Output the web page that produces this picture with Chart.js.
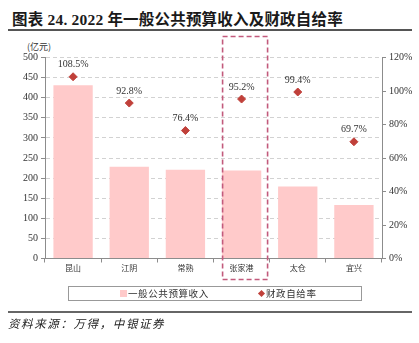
<!DOCTYPE html>
<html lang="zh">
<head>
<meta charset="UTF-8">
<title>2022年一般公共预算收入及财政自给率</title>
<script src="https://cdn.jsdelivr.net/npm/chart.js"></script>
<style>
  body { margin: 0; background: #fff; }
  #wrap { position: relative; width: 419px; height: 343px; overflow: hidden; background: #fff; }
  #chart { position: absolute; left: 0; top: 0; }
  .title { position: absolute; left: 12px; top: 7px; font: bold 15.5px "Liberation Serif", "Noto Sans CJK SC"; color: #1a1a1a; white-space: nowrap; letter-spacing: 0.2px; }
  .rule { position: absolute; left: 8px; width: 404px; background: #555; }
  .unit { position: absolute; left: 27px; top: 40px; font: 9px "Noto Sans CJK SC"; color: #333; }
  .legend { position: absolute; left: 68px; top: 286px; width: 294px; height: 15px; border: 1px solid #999; box-sizing: border-box; font: 9.5px "Noto Sans CJK SC"; color: #333; }
  .legend span { position: absolute; top: 0; line-height: 13px; white-space: nowrap; letter-spacing: 0.6px; }
  .sq { position: absolute; left: 51px; top: 3px; width: 7px; height: 7px; background: #ffcaca; }
  .dia { position: absolute; left: 190px; top: 4px; width: 5px; height: 5px; background: #c0403a; transform: rotate(45deg); }
  .source { position: absolute; left: 8px; top: 315px; font: italic 11.5px "Noto Sans CJK SC"; color: #222; letter-spacing: 1.6px; white-space: nowrap; }
</style>
</head>
<body>
<div id="wrap">
  <div class="title">图表 24. 2022 年一般公共预算收入及财政自给率</div>
  <div class="rule" style="top:29px;height:1.5px;"></div>
  <div class="unit">(亿元)</div>
  <canvas id="chart" width="419" height="343"></canvas>
  <div class="legend">
    <div class="sq"></div><span style="left:59px;">一般公共预算收入</span>
    <div class="dia"></div><span style="left:197px;">财政自给率</span>
  </div>
  <div class="rule" style="top:311px;height:1.5px;background:#666;"></div>
  <div class="source">资料来源：万得，中银证券</div>
</div>

<script>
// 各县级市 2022 年数据
const cities = ['昆山', '江阴', '常熟', '张家港', '太仓', '宜兴'];
const revenue = [431, 228, 221, 219, 179, 133];        // 一般公共预算收入（亿元）
const selfSufficiency = [108.5, 92.8, 76.4, 95.2, 99.4, 69.7]; // 财政自给率（%）
const highlightCity = '张家港';

const pink = '#ffcaca';
const red = '#c0403a';
const axisGray = '#8c8c8c';
const serif = 'Liberation Serif';

// 财政自给率数值标注
const valueLabels = {
  id: 'valueLabels',
  afterDatasetsDraw(chart) {
    const { ctx } = chart;
    const meta = chart.getDatasetMeta(1);
    ctx.save();
    ctx.font = '10px "' + serif + '"';
    ctx.fillStyle = '#333';
    ctx.textAlign = 'center';
    ctx.textBaseline = 'middle';
    meta.data.forEach((pt, i) => {
      ctx.fillText(selfSufficiency[i].toFixed(1) + '%', pt.x, pt.y - 12);
    });
    ctx.restore();
  }
};

// 张家港外围的虚线框
const highlightBox = {
  id: 'highlightBox',
  afterDraw(chart) {
    const { ctx, chartArea, scales } = chart;
    const idx = cities.indexOf(highlightCity);
    const cx = scales.x.getPixelForValue(idx);
    ctx.save();
    ctx.strokeStyle = '#c25a7c';
    ctx.lineWidth = 1.6;
    ctx.setLineDash([5, 3]);
    ctx.strokeRect(cx - 19, chartArea.top - 21, 45, chartArea.bottom - chartArea.top + 42);
    ctx.restore();
  }
};

new Chart(document.getElementById('chart'), {
  data: {
    labels: cities,
    datasets: [
      {
        type: 'bar',
        label: '一般公共预算收入',
        data: revenue,
        backgroundColor: pink,
        borderWidth: 0,
        categoryPercentage: 1,
        barPercentage: 0.7,
        yAxisID: 'y',
        order: 2
      },
      {
        type: 'line',
        label: '财政自给率',
        data: selfSufficiency,
        showLine: false,
        pointStyle: 'rectRot',
        pointRadius: 4,
        backgroundColor: red,
        borderColor: red,
        yAxisID: 'y1',
        order: 1
      }
    ]
  },
  options: {
    responsive: false,
    animation: false,
    devicePixelRatio: 1,
    layout: { padding: { top: 57.5, bottom: 54.5, left: 0, right: 0 } },
    plugins: { legend: { display: false }, tooltip: { enabled: false } },
    scales: {
      x: {
        afterFit(s) { s.height = 30; },
        grid: { drawOnChartArea: false, drawTicks: true, tickLength: 4, tickColor: axisGray, offset: true },
        border: { color: axisGray, width: 1 },
        ticks: { color: '#333', font: { family: 'Noto Sans CJK SC', size: 8 }, padding: 1 }
      },
      y: {
        position: 'left',
        min: 0, max: 500,
        afterFit(s) { s.width = 45; },
        grid: { color: '#d2d2d2', lineWidth: 1, tickLength: 4, tickColor: axisGray },
        border: { color: axisGray, width: 1, dash: [4, 3] },
        ticks: { stepSize: 50, color: '#333', font: { family: serif, size: 10 }, padding: 3 }
      },
      y1: {
        position: 'right',
        min: 0, max: 120,
        afterFit(s) { s.width = 37; },
        grid: { drawOnChartArea: false, tickLength: 4, tickColor: axisGray },
        border: { color: axisGray, width: 1 },
        ticks: { stepSize: 20, color: '#333', font: { family: serif, size: 10 }, padding: 3,
                 callback: v => v + '%' }
      }
    }
  },
  plugins: [valueLabels, highlightBox]
});
</script>
</body>
</html>
